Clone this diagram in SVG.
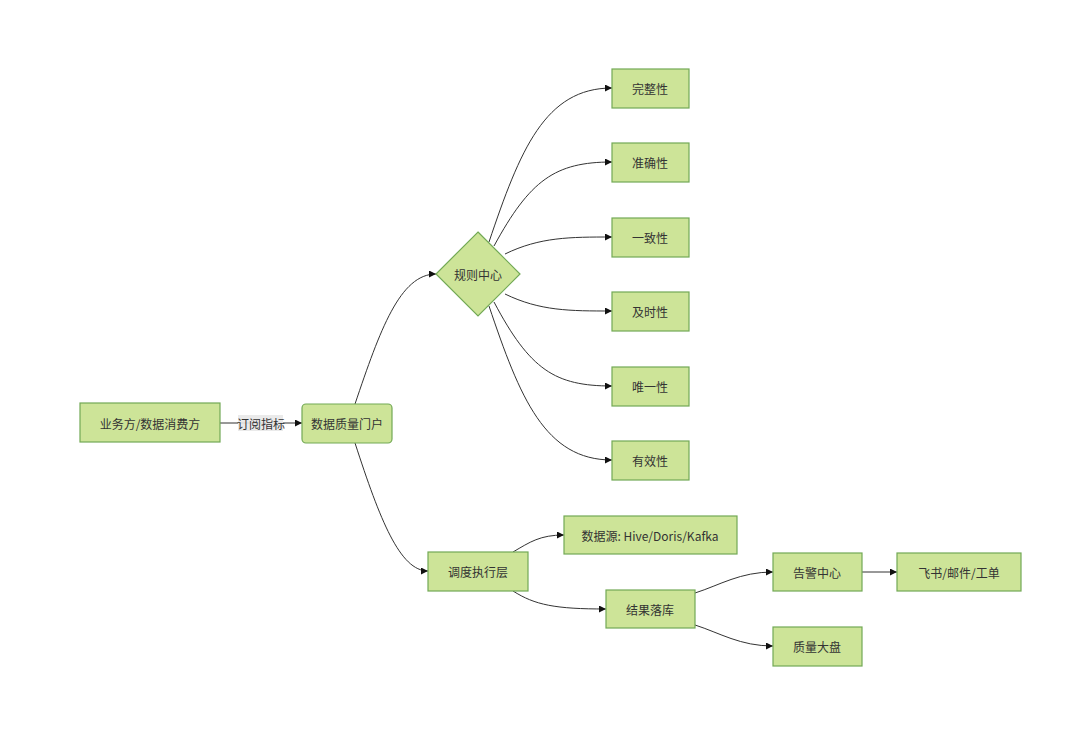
<svg xmlns="http://www.w3.org/2000/svg" width="1080" height="736" viewBox="0 0 1080 736">
<style>
.n{fill:#cde498;stroke:#72a955;stroke-width:1.2}
.t{font-family:"Noto Sans CJK SC","Liberation Sans",sans-serif;font-size:12px;fill:#333;text-anchor:middle;dominant-baseline:central}
.e{fill:none;stroke:#333;stroke-width:1;marker-end:url(#arr)}
</style>
<defs>
<marker id="arr" viewBox="0 0 8 8" markerWidth="7" markerHeight="7" refX="8" refY="4" orient="auto" markerUnits="userSpaceOnUse">
<path d="M0,0 L8,4 L0,8 z" fill="#111"/>
</marker>
</defs>
<rect width="1080" height="736" fill="#fff"/>
<g id="edges">
<path class="e" d="M220 423 L302 423"/>
<path class="e" d="M355 404 C380 330 400 274 436 274"/>
<path class="e" d="M355 443 C380 520 400 571 428 571"/>
<path class="e" d="M489 242 C520 150 545 88 612 88"/>
<path class="e" d="M494 246 C530 180 555 162 612 162"/>
<path class="e" d="M505 254 C540 237 570 237 612 237"/>
<path class="e" d="M505 294 C540 311 570 311 612 311"/>
<path class="e" d="M494 302 C530 370 555 386 612 386"/>
<path class="e" d="M489 306 C520 398 545 460 612 460"/>
<path class="e" d="M513 552 C530 542 540 535 564 535"/>
<path class="e" d="M513 591 C535 605 555 609 606 609"/>
<path class="e" d="M695 593 C720 585 740 572 773 572"/>
<path class="e" d="M695 625 C720 633 740 646 773 646"/>
<path class="e" d="M862 572 L897 572"/>
<rect x="238" y="415" width="45" height="16" fill="#e8e8e8" opacity="0.9"/>
<text class="t" x="261" y="423">订阅指标</text>
</g>
<g id="consumer"><rect class="n" x="80" y="403" width="140" height="39"/><text class="t" x="150" y="423">业务方/数据消费方</text></g>
<g id="portal"><rect class="n" x="302" y="404" width="90" height="39" rx="4"/><text class="t" x="347" y="423">数据质量门户</text></g>
<g id="rules"><polygon class="n" points="478,232 520,274 478,316 436,274"/><text class="t" x="478" y="274">规则中心</text></g>
<g id="completeness"><rect class="n" x="612" y="69" width="77" height="39"/><text class="t" x="650" y="88">完整性</text></g>
<g id="accuracy"><rect class="n" x="612" y="143" width="77" height="39"/><text class="t" x="650" y="162">准确性</text></g>
<g id="consistency"><rect class="n" x="612" y="218" width="77" height="39"/><text class="t" x="650" y="237">一致性</text></g>
<g id="timeliness"><rect class="n" x="612" y="292" width="77" height="39"/><text class="t" x="650" y="311">及时性</text></g>
<g id="uniqueness"><rect class="n" x="612" y="367" width="77" height="39"/><text class="t" x="650" y="386">唯一性</text></g>
<g id="validity"><rect class="n" x="612" y="441" width="77" height="39"/><text class="t" x="650" y="460">有效性</text></g>
<g id="scheduler"><rect class="n" x="428" y="552" width="100" height="39"/><text class="t" x="478" y="571">调度执行层</text></g>
<g id="datasource"><rect class="n" x="564" y="516" width="173" height="38"/><text class="t" x="650" y="535">数据源: Hive/Doris/Kafka</text></g>
<g id="sink"><rect class="n" x="606" y="590" width="89" height="38"/><text class="t" x="650" y="609">结果落库</text></g>
<g id="alert"><rect class="n" x="773" y="553" width="89" height="38"/><text class="t" x="817" y="572">告警中心</text></g>
<g id="notify"><rect class="n" x="897" y="553" width="124" height="38"/><text class="t" x="959" y="572">飞书/邮件/工单</text></g>
<g id="dashboard"><rect class="n" x="773" y="627" width="89" height="39"/><text class="t" x="817" y="646">质量大盘</text></g>
</svg>
